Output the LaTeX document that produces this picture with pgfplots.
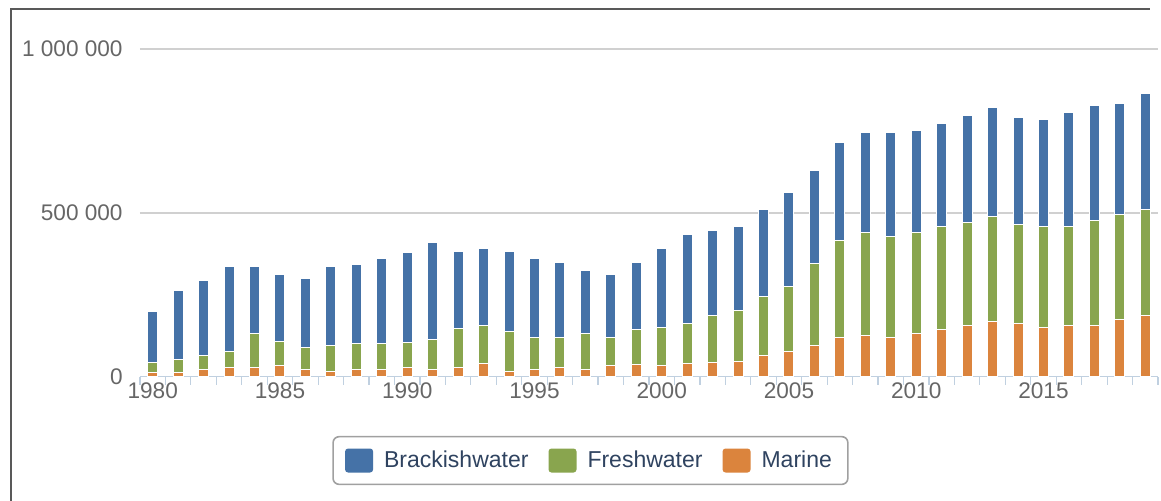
\documentclass[border=0pt]{standalone}
\usepackage{pgfplots}
\pgfplotsset{compat=1.18}
\usepackage{pgfplotstable}
\usepackage{fontspec}
\setmainfont{Liberation Sans}
\definecolor{cblue}{HTML}{4572A7}
\definecolor{cgreen}{HTML}{89A54E}
\definecolor{corange}{HTML}{DB843D}
\definecolor{axisblue}{HTML}{C0D0E0}
\definecolor{gridgray}{HTML}{D0D0D0}
\definecolor{labgray}{HTML}{666666}
\definecolor{legtext}{HTML}{2F4360}
\definecolor{legborder}{HTML}{A0A0A0}

\pgfplotstableread{
year marine fresh brack
1980 11000 31000 155000
1981 11000 41000 211000
1982 21000 44000 229000
1983 29000 48000 258000
1984 29000 102000 204000
1985 34000 74000 204000
1986 21000 69000 210000
1987 16000 79000 240000
1988 21000 81000 240000
1989 21000 81000 258000
1990 27000 78000 273000
1991 20000 92000 297000
1992 27000 121000 235000
1993 39000 116000 235000
1994 15000 122000 246000
1995 22000 97000 241000
1996 27000 92000 229000
1997 22000 108000 194000
1998 34000 85000 192000
1999 36000 107000 205000
2000 34000 116000 240000
2001 39000 122000 273000
2002 42000 144000 259000
2003 45000 158000 254000
2004 64000 181000 266000
2005 76000 200000 285000
2006 95000 249000 284000
2007 119000 297000 297000
2008 125000 315000 304000
2009 119000 308000 317000
2010 130000 310000 310000
2011 143000 315000 315000
2012 155000 315000 328000
2013 167000 322000 332000
2014 161000 303000 327000
2015 150000 308000 327000
2016 155000 303000 347000
2017 155000 321000 352000
2018 173000 321000 340000
2019 185000 326000 353000
}\datatable

\begin{document}
\begin{tikzpicture}[x=1pt,y=1pt]
\useasboundingbox (0,0) rectangle (580.5,250);
\draw[line width=0.8pt, black!65] (5.5,-5) -- (5.5,245.5) -- (575,245.5);
\begin{axis}[
  at={(70pt,61.75pt)}, anchor=south west,
  scale only axis, width=509pt, height=163.75pt,
  xmin=1979.5, xmax=2019.5, ymin=0, ymax=1000000,
  scaled y ticks=false,
  ybar stacked, bar width=5pt,
  axis x line*=bottom, axis y line*=left,
  x axis line style={draw=axisblue, line width=0.6pt},
  y axis line style={draw=none},
  xtick={1980,1985,...,2015},
  xticklabels={1980,1985,1990,1995,2000,2005,2010,2015},
  minor xtick={1979.5,1980.5,...,2019.5},
  major tick length=0pt, minor tick length=4pt,
  tick align=outside,
  minor tick style={draw=axisblue, line width=0.6pt},
  ytick={0,500000,1000000},
  yticklabels={0,500 000,1 000 000},
  ymajorgrids,
  major grid style={draw=gridgray, line width=0.8pt},
  xticklabel style={font=\fontsize{11.3}{13}\selectfont, text=labgray, anchor=base, inner sep=0pt, yshift=-10.75pt},
  yticklabel style={font=\fontsize{11.3}{13}\selectfont, text=labgray, anchor=east, inner sep=0pt, xshift=-8.5pt},
  reverse legend,
  legend columns=3,
  legend image code/.code={\path[#1, draw=none, rounded corners=1.5pt] (0pt,-6pt) rectangle (14pt,6pt);},
  legend style={at={(0.4425,-0.2565)}, anchor=center, draw=legborder, line width=0.8pt, rounded corners=3pt,
    inner xsep=6pt, inner ysep=5pt,
    font=\fontsize{11.5}{13}\selectfont, text=legtext,
    /tikz/every odd column/.append style={column sep=3.5pt},
    /tikz/every even column/.append style={column sep=8pt}},
]
\addplot[fill=corange, draw=white, line width=0.5pt] table[x=year,y=marine]{\datatable};
\addlegendentry{Marine}
\addplot[fill=cgreen, draw=white, line width=0.5pt] table[x=year,y=fresh]{\datatable};
\addlegendentry{Freshwater}
\addplot[fill=cblue, draw=white, line width=0.5pt] table[x=year,y=brack]{\datatable};
\addlegendentry{Brackishwater}
\end{axis}
\end{tikzpicture}
\end{document}
